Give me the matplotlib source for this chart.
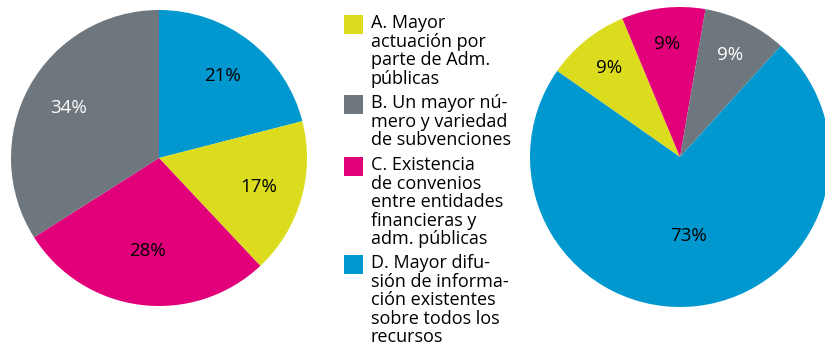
import matplotlib.pyplot as plt
from matplotlib.patches import Rectangle

plt.rcParams['font.family'] = ['Open Sans', 'DejaVu Sans']

# ------------------------------------------
# Data
# ------------------------------------------
categorias = [
    'A. Mayor\nactuación por\nparte de Adm.\npúblicas',
    'B. Un mayor nú-\nmero y variedad\nde subvenciones',
    'C. Existencia\nde convenios\nentre entidades\nfinancieras y\nadm. públicas',
    'D. Mayor difu-\nsión de informa-\nción existentes\nsobre todos los\nrecursos',
]
colores = ['#DCDC1E', '#6F777E', '#E2007A', '#0098CF']

# left pie, clockwise from the top: D, A, C, B
valores_izq = [21, 17, 28, 34]
colores_izq = [colores[3], colores[0], colores[2], colores[1]]
texto_izq = ['black', 'black', 'black', 'white']

# right pie, clockwise: A, C, B, D
valores_der = [9, 9, 9, 73]
colores_der = [colores[0], colores[2], colores[1], colores[3]]
texto_der = ['black', 'black', 'white', 'black']

W, H = 825, 347
fig = plt.figure(figsize=(W / 100, H / 100), dpi=100)


def pie_axes(cx, cy, r):
    ax = fig.add_axes([(cx - r) / W, (H - cy - r) / H, 2 * r / W, 2 * r / H])
    return ax


def dibujar(ax, valores, cols, tcols, start, pctdist):
    wedges, texts, autotexts = ax.pie(
        valores, colors=cols, startangle=start, counterclock=False,
        radius=1, autopct='%d%%', pctdistance=pctdist,
        wedgeprops=dict(linewidth=0),
        textprops=dict(fontsize=13.5))
    for t, c in zip(autotexts, tcols):
        t.set_color(c)
    ax.set_xlim(-1, 1)
    ax.set_ylim(-1, 1)
    ax.set_aspect('equal')
    ax.axis('off')
    return autotexts


ax1 = pie_axes(159, 158, 148)
at1 = dibujar(ax1, valores_izq, colores_izq, texto_izq, 90, 0.70)
# bottom label a little nearer the centre
x, y = at1[2].get_position()
at1[2].set_position((x * 0.9, y * 0.9))

ax2 = pie_axes(680, 157, 150)
at = dibujar(ax2, valores_der, colores_der, texto_der, 145, 0.76)
# big slice label sits closer to the centre
x, y = at[3].get_position()
at[3].set_position((x * 0.70, y * 0.70))

# ------------------------------------------
# Legend (pixel coordinates)
# ------------------------------------------
lg = fig.add_axes([0, 0, 1, 1])
lg.set_xlim(0, W)
lg.set_ylim(H, 0)
lg.axis('off')
lg.patch.set_alpha(0)

tops = [15, 95, 157, 255]
for txt, col, top in zip(categorias, colores, tops):
    lg.add_patch(Rectangle((344, top), 19, 19, facecolor=col, edgecolor='none'))
    lg.text(371, top - 1, txt, fontsize=13, va='top', ha='left',
            linespacing=1.04, color='black')

fig.savefig('out.png', dpi=100)
